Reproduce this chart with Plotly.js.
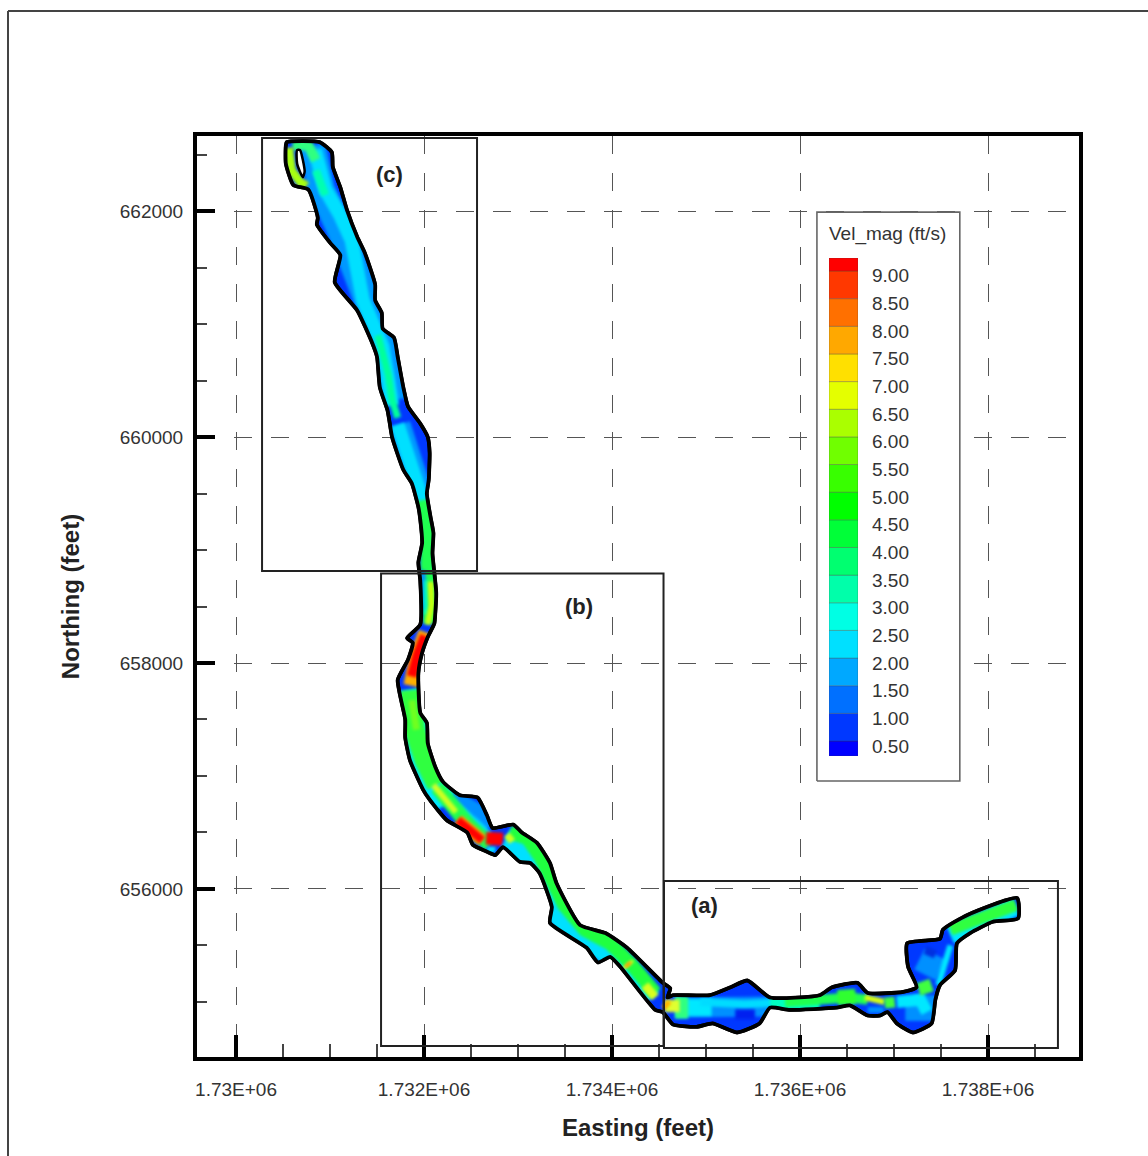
<!DOCTYPE html>
<html><head><meta charset="utf-8">
<script src="https://cdn.plot.ly/plotly-3.0.1.min.js"></script>
<style>html,body{margin:0;padding:0;background:#fff}#chart{width:1148px;height:1156px}</style>
</head><body><div id="chart"></div>
<script>
// ---------- Axis ticks ----------
const eastingTicks=[1730000,1732000,1734000,1736000,1738000];
const eastingLabels=['1.73E+06','1.732E+06','1.734E+06','1.736E+06','1.738E+06'];
const northingTicks=[656000,658000,660000,662000];
const northingLabels=['656000','658000','660000','662000'];

// ---------- Legend ----------
const legendLevels=[0.5,1,1.5,2,2.5,3,3.5,4,4.5,5,5.5,6,6.5,7,7.5,8,8.5,9];
const legendLabels=['0.50','1.00','1.50','2.00','2.50','3.00','3.50','4.00','4.50','5.00','5.50','6.00','6.50','7.00','7.50','8.00','8.50','9.00'];
const legendBase=[0.229,0.5,1,1.5,2,2.5,3,3.5,4,4.5,5,5.5,6,6.5,7,7.5,8,8.5,9];
const legendHeight=[0.271,0.5,0.5,0.5,0.5,0.5,0.5,0.5,0.5,0.5,0.5,0.5,0.5,0.5,0.5,0.5,0.5,0.5,0.235];
const legendColors=['#0000ff','#0038ff','#0070ff','#00a8ff','#00e0ff','#00ffe4','#00ffaa','#00ff70','#00ff38','#00ff00','#38ff00','#70ff00','#aaff00','#e4ff00','#ffe000','#ffa800','#ff7000','#ff3800','#ff0000'];

// ---------- River bank outline (feet) ----------
const bankEast=[1730540,1730890,1731020,1731030,1731110,1731180,1731290,1731370,1731480,1731480,1731550,1731560,1731680,1731720,1731780,1731830,1731960,1732040,1732060,1732050,1732030,1732070,1732100,1732090,1732110,1732130,1732120,1732110,1732040,1731980,1731940,1731960,1732030,1732040,1732120,1732200,1732380,1732570,1732670,1732730,1732950,1733040,1733200,1733340,1733410,1733660,1733930,1734160,1734540,1734620,1734590,1734650,1735040,1735260,1735440,1735680,1736210,1736340,1736610,1736720,1737100,1737240,1737150,1737140,1737490,1737520,1737780,1738310,1738320,1738050,1737810,1737670,1737650,1737490,1737440,1737400,1737200,1737030,1736930,1736850,1736720,1736530,1736390,1735890,1735680,1735570,1735330,1735070,1734900,1734650,1734540,1734460,1734090,1733980,1733850,1733730,1733340,1733360,1733230,1733130,1733020,1732840,1732760,1732670,1732520,1732460,1732240,1732060,1731990,1731850,1731800,1731800,1731720,1731830,1731880,1731820,1731960,1731960,1731940,1731980,1731960,1731940,1731870,1731780,1731660,1731630,1731610,1731530,1731500,1731450,1731290,1731050,1731110,1731000,1730860,1730870,1730770,1730610,1730530,1730530];
const bankNorth=[662610,662610,662520,662390,662210,662010,661770,661630,661350,661210,661100,660960,660880,660710,660440,660270,660120,660000,659860,659620,659500,659290,659150,658970,658800,658620,658440,658350,658230,658090,657910,657560,657470,657290,657080,656950,656830,656810,656650,656540,656570,656500,656410,656230,656050,655680,655610,655480,655170,655120,655040,655060,655060,655130,655190,655040,655060,655130,655170,655080,655090,655130,655310,655520,655560,655640,655770,655920,655740,655710,655610,655520,655280,655150,655020,654810,654730,654810,654910,654880,654880,654970,654950,654930,654950,654810,654730,654810,654780,654800,654910,654930,655310,655400,655350,655480,655700,655840,656140,656230,656240,656370,656300,656330,656390,656500,656610,656790,656880,657140,657340,657500,657850,658030,658180,658220,658340,658730,658890,659060,659270,659380,659590,659710,660000,660150,660240,660440,660710,660830,661120,661370,661610,661720,661880,661940,662190,662230,662420,662580];
const islandEast=[1730650,1730650,1730710,1730730,1730680,1730650];
const islandNorth=[662540,662420,662300,662350,662540,662540];

// ---------- Velocity zones drawn inside the river (feet) ----------
const skyCE=[1730810,1730910,1731110,1731320,1731430,1731640,1731690], skyCN=[662580,662190,661830,661390,661040,660680,660330];
const cyanCE=[1730840,1730950,1731110,1731230,1731350,1731560,1731620,1731660], cyanCN=[662540,662190,661960,661740,661210,660800,660500,660280];
const sky2E=[1731740,1731850,1731980], sky2N=[660110,659840,659490];
const cyan2E=[1731720,1731830,1731940,1732020], cyan2N=[660110,659840,659620,659350];
const tealCE=[1731510,1731620,1731660,1731720], tealCN=[660900,660550,660330,660170];
const ringE=[1730560,1730590,1730680,1730750], ringN=[662560,662360,662260,662220];
const topGreenE=[1730600,1730770,1730850], topGreenN=[662580,662580,662450];
const topTealE=[1730850,1730950], topTealN=[662360,662140];
const greenNeckE=[1731980,1732040,1732030,1732050,1732060], greenNeckN=[659440,659180,658870,658730,658350];
const skyNeckE=[1731990,1732000], skyNeckN=[658820,658470];
const cyanNeckE=[1732020,1732020], cyanNeckN=[658730,658430];
const yellowNeckE=[1732070,1732080,1732040], yellowNeckN=[658720,658510,658340];
const cyanBendE=[1731820,1731850,1731960,1732090,1732220], cyanBendN=[657760,657450,657140,656920,656740];
const greenBendE=[1731860,1731900,1732010,1732140], greenBendN=[657760,657410,657140,656920];
const limeBendE=[1731870,1731920], limeBendN=[657670,657410];
const orangeTopE=[1732020,1731930,1731860], orangeTopN=[658270,658070,657800];
const redTopE=[1732010,1731930,1731870], redTopN=[658240,658070,657880];
const skyBulgeE=[1732300,1732570,1732680], skyBulgeN=[656830,656700,656540];
const cyanBulgeE=[1732260,1732490,1732700], cyanBulgeN=[656790,656650,656480];
const green3E=[1732140,1732280,1732470,1732700], green3N=[656900,656740,656570,656390];
const yellow3E=[1732100,1732220,1732340], yellow3N=[656920,656790,656680];
const cyanTipE=[1732670,1732760], cyanTipN=[656350,656350];
const orange3E=[1732360,1732490,1732620], orange3N=[656610,656520,656430];
const red3E=[1732360,1732490,1732620], red3N=[656610,656520,656430];
const redPatchE=[1732660,1732840], redPatchN=[656450,656440];
const cyanLowE=[1732860,1733040,1733180,1733290,1733390,1733610,1733930,1734140,1734400], cyanLowN=[656430,656360,656240,656040,655830,655620,655460,655280,655020];
const greenLowE=[1732910,1733100,1733240,1733360,1733490,1733710,1733980,1734210,1734460], greenLowN=[656500,656450,656280,656080,655860,655640,655520,655330,655080];
const yellowJoinE=[1732880,1732940], yellowJoinN=[656480,656420];
const spotYE=[1734160,1734180], spotYN=[655340,655320];
const spotOE=[1734160,1734180], spotON=[655340,655320];
const yellowEndE=[1734350,1734460], yellowEndN=[655150,655040];
const haloEndE=[1734640,1734640], haloEndN=[655020,654910];
const orangeEndE=[1734560,1734600], orangeEndN=[654990,654960];
const skyPool1E=[1734670,1735150,1735680], skyPool1N=[654950,654950,654960];
const cyanPool1E=[1734700,1735060], cyanPool1N=[654950,654950];
const cyanThinE=[1734940,1735410,1735890], cyanThinN=[655000,654980,655000];
const greenPool1E=[1734670,1734810], greenPool1N=[654950,654950];
const darkPool1E=[1735310,1735520], darkPool1N=[654890,654890];
const tealNarrowE=[1735680,1736210], tealNarrowN=[655000,655000];
const greenNarrowE=[1735840,1736320,1736530,1736720], greenNarrowN=[655000,655020,655040,655020];
const greenBlobE=[1736400,1736590], greenBlobN=[655040,655050];
const skyUnderE=[1736720,1736890], skyUnderN=[654930,654930];
const yellowNarrowE=[1736690,1736900], yellowNarrowN=[655040,655000];
const greenOutE=[1736900,1737010], greenOutN=[654990,655000];
const skyPool2E=[1737120,1737330,1737330], skyPool2N=[654930,654930,655060];
const cyanPool2E=[1737030,1737280,1737350], cyanPool2N=[655000,655020,654910];
const skyUpperE=[1737330,1737440], skyUpperN=[655240,655420];
const darkUpperE=[1737330,1737440], darkUpperN=[655460,655420];
const cyanUpperE=[1737470,1737540,1737600], cyanUpperN=[655150,655350,655500];
const greenPool2E=[1737260,1737400], greenPool2N=[655110,655150];
const cyanFinE=[1737600,1737910,1738290], cyanFinN=[655590,655710,655840];
const greenFinE=[1737600,1737970,1738300], greenFinN=[655640,655770,655860];

// ---------- Sub-reach boxes and legend panel (feet) ----------
const boxC=[1730277,1732564,658814,662646];
const boxB=[1731543,1734548,654610,658792];
const boxA=[1734553,1738744,654593,656070];
const legendPanelE=[1736180,1737700,1737700,1736180,1736180];
const legendPanelN=[656955,656955,661990,661990,656955];

// [east, north, colour, width]
const zones=[
 [skyCE,skyCN,'#0098ff',27],[cyanCE,cyanCN,'#00e0ff',14],[sky2E,sky2N,'#0098ff',22],[cyan2E,cyan2N,'#00e0ff',14],
 [tealCE,tealCN,'#00ff9a',7],[topGreenE,topGreenN,'#30ff80',10],[ringE,ringN,'#a8ff10',9],[topTealE,topTealN,'#00ffb0',8],
 [greenNeckE,greenNeckN,'#20ff50',13],[skyNeckE,skyNeckN,'#0090ff',5],[cyanNeckE,cyanNeckN,'#00ffc0',4],[yellowNeckE,yellowNeckN,'#c8ff10',6],
 [cyanBendE,cyanBendN,'#00e8ff',32],[greenBendE,greenBendN,'#30ff40',21],[limeBendE,limeBendN,'#70ff20',7],[orangeTopE,orangeTopN,'#ffb000',15],[redTopE,redTopN,'#ff0000',10],
 [skyBulgeE,skyBulgeN,'#0090ff',13],[cyanBulgeE,cyanBulgeN,'#00d8ff',6],[green3E,green3N,'#20ff50',15],[yellow3E,yellow3N,'#d0ff20',6],
 [cyanTipE,cyanTipN,'#00e8ff',6],[orange3E,orange3N,'#ffa000',12],[red3E,red3N,'#ff0000',8],[redPatchE,redPatchN,'#ff0000',13],
 [cyanLowE,cyanLowN,'#00e0ff',25],[greenLowE,greenLowN,'#20ff40',14],[yellowJoinE,yellowJoinN,'#d0ff20',7],
 [spotYE,spotYN,'#e8ff20',13],[spotOE,spotON,'#ff9000',7],[yellowEndE,yellowEndN,'#d8ff20',9],
 [skyPool1E,skyPool1N,'#0090ff',20],[cyanPool1E,cyanPool1N,'#00e8ff',17],[cyanThinE,cyanThinN,'#00dcff',8],[greenPool1E,greenPool1N,'#30ff80',22],
 [haloEndE,haloEndN,'#e0ff30',15],[orangeEndE,orangeEndN,'#ffb000',9],[darkPool1E,darkPool1N,'#0020f0',10],
 [tealNarrowE,tealNarrowN,'#00ffc0',14],[greenNarrowE,greenNarrowN,'#20ff50',10],[greenBlobE,greenBlobN,'#30ff30',15],[skyUnderE,skyUnderN,'#0090ff',6],
 [yellowNarrowE,yellowNarrowN,'#d8ff10',6],[greenOutE,greenOutN,'#40ff40',11],
 [skyPool2E,skyPool2N,'#0090ff',22],[cyanPool2E,cyanPool2N,'#00e8ff',12],[skyUpperE,skyUpperN,'#0090ff',24],[darkUpperE,darkUpperN,'#0030e0',8],
 [cyanUpperE,cyanUpperN,'#00e8ff',6],[greenPool2E,greenPool2N,'#40ff40',13],[cyanFinE,cyanFinN,'#00e8ff',18],[greenFinE,greenFinN,'#30ff40',12]
];

const closedE=bankEast.concat(bankEast[0]), closedN=bankNorth.concat(bankNorth[0]);
const skip={hoverinfo:'skip',showlegend:false,type:'scatter',mode:'lines'};
const traces=[{...skip,x:closedE,y:closedN,fill:'toself',fillcolor:'#0038ff',line:{color:'#000',width:3.5,shape:'spline',smoothing:0.5}}];
zones.forEach(z=>traces.push({...skip,x:z[0],y:z[1],line:{color:z[2],width:z[3]}}));
traces.push({...skip,x:closedE,y:closedN,line:{color:'#000',width:3.8,shape:'spline',smoothing:0.5}});
traces.push({...skip,x:islandEast,y:islandNorth,fill:'toself',fillcolor:'#fff',line:{color:'#000',width:2.5,shape:'spline',smoothing:0.6}});
traces.push({...skip,x:legendPanelE,y:legendPanelN,fill:'toself',fillcolor:'#fff',line:{color:'#666',width:1.6}});
traces.push({type:'bar',x:legendBase.map(()=>0),y:legendHeight,base:legendBase,width:1,xaxis:'x2',yaxis:'y2',
  marker:{color:legendColors,line:{color:'rgba(60,60,60,0.45)',width:0.7}},hoverinfo:'skip',showlegend:false});

const fontName='"Liberation Sans", Arial, sans-serif';
const areaL=197, areaR=1079, areaT=136, areaB=1057;
const pxX=p=>(p-areaL)/(areaR-areaL), pxY=p=>(areaB-p)/(areaB-areaT);
function frame(a,b,c,d){return {type:'line',xref:'paper',yref:'paper',x0:pxX(a),y0:pxY(b),x1:pxX(c),y1:pxY(d),line:{color:'#444',width:2}};}
function box(b){return {type:'rect',xref:'x',yref:'y',x0:b[0],x1:b[1],y0:b[2],y1:b[3],layer:'above',fillcolor:'rgba(0,0,0,0)',line:{color:'#222',width:2}};}

const annotations=legendLevels.map((v,i)=>({xref:'x2',yref:'y2',x:0.5,y:v,text:legendLabels[i],showarrow:false,xanchor:'left',yanchor:'middle',xshift:12,yshift:-5,font:{family:fontName,size:19,color:'#333'}}));
annotations.push({xref:'paper',yref:'paper',x:pxX(827),y:pxY(234),xanchor:'left',yanchor:'middle',text:'Vel_mag (ft/s)',showarrow:false,font:{family:fontName,size:19,color:'#333'}});
[['(c)',1731630,662320],['(b)',1733650,658500],['(a)',1734980,655850]].forEach(a=>annotations.push({xref:'x',yref:'y',x:a[1],y:a[2],text:'<b>'+a[0]+'</b>',showarrow:false,font:{family:fontName,size:22,color:'#222'}}));

const layout={
 width:1148,height:1156,margin:{l:areaL,r:1148-areaR,t:areaT,b:1156-areaB,pad:0},paper_bgcolor:'#fff',plot_bgcolor:'#fff',showlegend:false,barmode:'overlay',
 font:{family:fontName,color:'#333'},
 xaxis:{range:[1729585,1738968],tickmode:'array',tickvals:eastingTicks,ticktext:eastingLabels,ticks:'inside',ticklen:22,tickwidth:4,tickcolor:'#000',
   minor:{tickmode:'linear',tick0:1730000,dtick:500,ticks:'inside',ticklen:13,tickwidth:1.5,tickcolor:'#444',showgrid:false},
   showline:true,linecolor:'#000',linewidth:4,mirror:true,zeroline:false,showgrid:true,gridcolor:'#555',gridwidth:1.3,griddash:'18px,19px',
   tickfont:{family:fontName,size:19,color:'#333'},ticklabelstandoff:12,
   title:{text:'<b>Easting (feet)</b>',font:{family:fontName,size:24,color:'#222'},standoff:21}},
 yaxis:{range:[654513,662664],tickmode:'array',tickvals:northingTicks,ticktext:northingLabels,ticks:'inside',ticklen:18,tickwidth:4,tickcolor:'#000',
   minor:{tickmode:'linear',tick0:656000,dtick:500,ticks:'inside',ticklen:10,tickwidth:1.5,tickcolor:'#444',showgrid:false},
   showline:true,linecolor:'#000',linewidth:4,mirror:true,zeroline:false,showgrid:true,gridcolor:'#555',gridwidth:1.3,griddash:'18px,19px',
   tickfont:{family:fontName,size:19,color:'#333'},ticklabelstandoff:6,
   title:{text:'<b>Northing (feet)</b>',font:{family:fontName,size:24,color:'#222'},standoff:34}},
 xaxis2:{domain:[pxX(829),pxX(858)],range:[-0.5,0.5],anchor:'y2',visible:false,fixedrange:true},
 yaxis2:{domain:[pxY(756),pxY(258)],range:[0.229,9.235],anchor:'x2',visible:false,fixedrange:true},
 shapes:[frame(8,11,1148,11),frame(8,11,8,1156),box(boxC),box(boxB),box(boxA)],
 annotations
};

Plotly.newPlot('chart',traces,layout,{displayModeBar:false,responsive:false}).then(()=>{
  const groups=document.querySelectorAll('.cartesianlayer .subplot.xy .scatterlayer .trace');
  const fillPath=groups[0].querySelector('.js-fill');
  const svg=document.querySelector('.main-svg');
  const NS='http://www.w3.org/2000/svg';
  const defs=svg.querySelector('defs')||svg.insertBefore(document.createElementNS(NS,'defs'),svg.firstChild);
  const clip=document.createElementNS(NS,'clipPath');clip.setAttribute('id','riverClip');
  const p=document.createElementNS(NS,'path');p.setAttribute('d',fillPath.getAttribute('d'));clip.appendChild(p);defs.appendChild(clip);
  for(let i=1;i<=zones.length;i++){
    groups[i].setAttribute('clip-path','url(#riverClip)');
    const l=groups[i].querySelector('.js-line');if(l)l.style.filter='blur(1.5px)';
  }
});
</script></body></html>
